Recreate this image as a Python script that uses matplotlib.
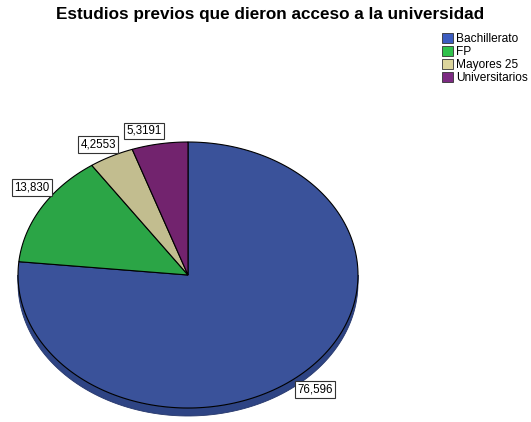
import numpy as np
import matplotlib
matplotlib.use("Agg")
import matplotlib.pyplot as plt
from matplotlib.patches import Polygon, Patch

plt.rcParams['font.family'] = ['Liberation Sans', 'DejaVu Sans']

# Porcentajes por tipo de estudios previos
categorias = ["Bachillerato", "FP", "Mayores 25", "Universitarios"]
porcentajes = [76.596, 13.830, 4.2553, 5.3191]
etiquetas = ["76,596", "13,830", "4,2553", "5,3191"]

colores = ["#3a529a", "#2ba546", "#c2bd8f", "#72236e"]
colores_lado = ["#2e4484", "#22853a", "#a09c74", "#5a1b57"]
colores_leyenda = ["#3c5cc0", "#30c24c", "#dcd59c", "#7c2a82"]
# desplazamiento de cada etiqueta respecto al borde (px, hacia abajo positivo)
desplaz = [(13, 16), (-10, -20), (-13, -12), (-16, -13)]

W, H = 531, 422
cx, cy, rx, ry, prof = 188, 275, 170, 133, 8

fig = plt.figure(figsize=(W / 100, H / 100), dpi=100)
ax = fig.add_axes([0, 0, 1, 1])
ax.set_xlim(0, W)
ax.set_ylim(H, 0)
ax.axis("off")


def borde(t, dy=0):
    t = np.radians(t)
    return np.column_stack([cx + rx * np.cos(t), cy - ry * np.sin(t) + dy])


fr = np.array(porcentajes) / sum(porcentajes)
inicio = 90 - 360 * np.concatenate([[0], np.cumsum(fr)[:-1]])
fin = inicio - 360 * fr

# cara lateral (solo la mitad delantera es visible)
for a0, a1, cl in zip(inicio, fin, colores_lado):
    for k in (-360, 0, 360):
        lo, hi = max(a1 + k, -180), min(a0 + k, 0)
        if hi > lo:
            t = np.linspace(lo, hi, 100)
            pts = np.vstack([borde(t), borde(t[::-1], prof)])
            ax.add_patch(Polygon(pts, closed=True, facecolor=cl,
                                 edgecolor="#25366a", lw=0.6, zorder=1))

# cara superior
for a0, a1, c in zip(inicio, fin, colores):
    t = np.linspace(a1, a0, 200)
    pts = np.vstack([[cx, cy], borde(t)])
    ax.add_patch(Polygon(pts, closed=True, facecolor=c,
                         edgecolor="black", lw=0.8, zorder=2))

# etiquetas de valor
for a0, a1, txt, (dx, dy) in zip(inicio, fin, etiquetas, desplaz):
    p = borde(np.array([(a0 + a1) / 2]))[0]
    ax.annotate(txt, xy=p, xytext=(dx, -dy), textcoords="offset pixels",
                ha="center", va="center", fontsize=8.3, zorder=5,
                bbox=dict(boxstyle="square,pad=0.2", fc="white",
                          ec="#333333", lw=0.8))

fig.text(270 / W, 1 - 15 / H, "Estudios previos que dieron acceso a la universidad",
         ha="center", va="center", fontsize=12.3, fontweight="bold")

handles = [Patch(facecolor=c, edgecolor="#333333", lw=0.6) for c in colores_leyenda]
fig.legend(handles, categorias, loc="upper left",
           bbox_to_anchor=(442 / W, 1 - 33 / H), frameon=False,
           fontsize=8.6, handlelength=0.95, handleheight=0.95,
           handletextpad=0.25, labelspacing=0.05, borderpad=0, borderaxespad=0)

fig.savefig("out.png", dpi=100)
